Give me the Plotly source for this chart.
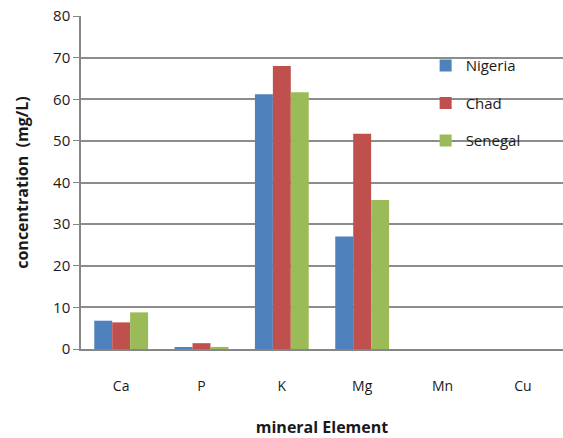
import plotly.graph_objects as go

elements = ["Ca", "P", "K", "Mg", "Mn", "Cu"]
nigeria = [6.8, 0.4, 61.2, 27.0, 0, 0]
chad = [6.4, 1.4, 68.0, 51.7, 0, 0]
senegal = [8.8, 0.5, 61.7, 35.8, 0, 0]

series = [
    ("Nigeria", nigeria, "#4F81BD"),
    ("Chad", chad, "#C0504D"),
    ("Senegal", senegal, "#9BBB59"),
]

font_family = "Open Sans, Liberation Sans, sans-serif"

fig = go.Figure()
for name, vals, color in series:
    fig.add_trace(go.Bar(
        x=elements, y=vals, name=name, legendgroup=name,
        marker=dict(color=color, line=dict(width=0)),
    ))

fig.update_layout(
    width=563, height=438,
    margin=dict(l=81, r=0, t=16, b=89),
    paper_bgcolor="white", plot_bgcolor="white",
    barmode="group", bargap=0.33, bargroupgap=0,
    font=dict(family=font_family, size=14, color="#1a1a1a"),
    showlegend=True,
    legend=dict(
        x=0.715, y=0.9, xanchor="left", yanchor="top",
        bgcolor="rgba(0,0,0,0)", tracegroupgap=15,
        font=dict(size=15, color="#1a1a1a"),
        itemwidth=30,
    ),
    xaxis=dict(
        showgrid=False, showline=True, linecolor="#868686", linewidth=1.5,
        ticks="", ticklabelstandoff=23,
        tickfont=dict(size=14),
        title=dict(text="<b>mineral Element</b>", standoff=32,
                   font=dict(size=16)),
    ),
    yaxis=dict(
        range=[0, 80], dtick=10,
        showgrid=True, gridcolor="#8c8c8c", gridwidth=1.5,
        showline=True, linecolor="#868686", linewidth=1.5,
        ticks="outside", ticklen=6, tickcolor="#868686",
        tickfont=dict(size=15),
        zeroline=False,
        title=dict(text="<b>concentration  (mg/L)</b>", standoff=20,
                   font=dict(size=16)),
    ),
)

fig.write_html("out.html")
